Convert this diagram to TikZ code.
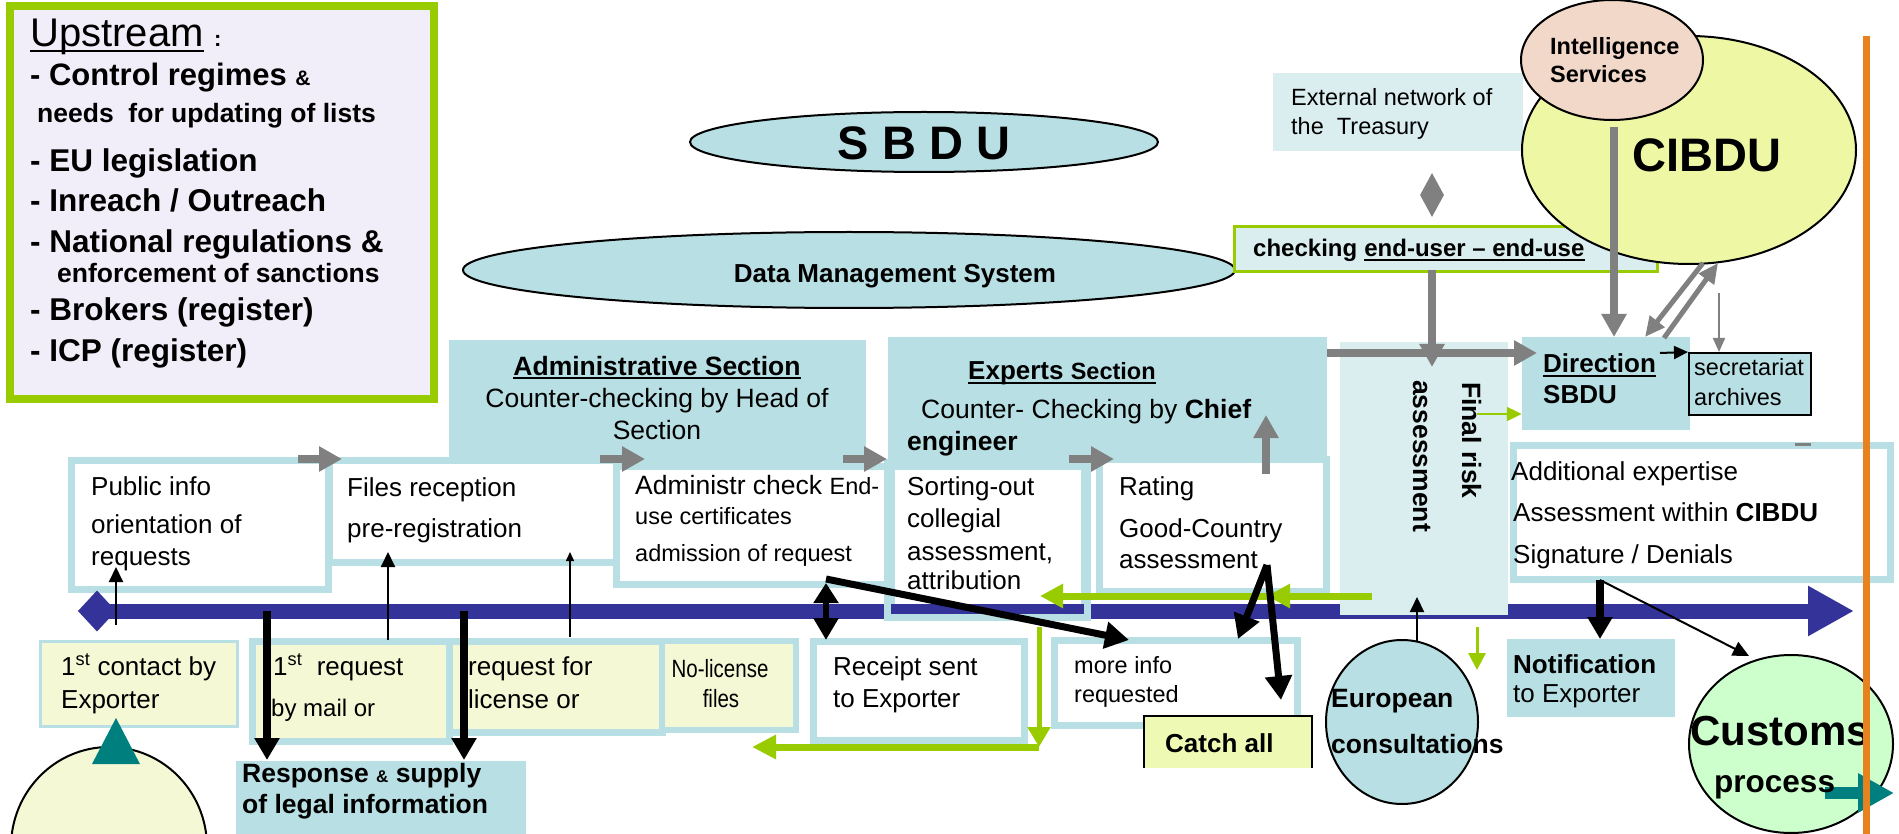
\documentclass[tikz,border=0pt]{standalone}
\usepackage{fontspec}
\setmainfont{Liberation Sans}
\newfontfamily\narrowfont[FakeStretch=0.82]{Liberation Sans}
\usetikzlibrary{arrows.meta,shapes.geometric,fit}
\definecolor{tealL}{HTML}{B8DFE3}
\definecolor{tealXL}{HTML}{DAEEF0}
\definecolor{yelL}{HTML}{F5F8D5}
\definecolor{grn}{HTML}{99CC00}
\definecolor{navy}{HTML}{333399}
\definecolor{gry}{HTML}{808080}
\definecolor{orng}{HTML}{E8821E}
\definecolor{intel}{HTML}{F2D8C9}
\definecolor{cib}{HTML}{EDF7A4}
\definecolor{cust}{HTML}{CCFFCC}
\definecolor{catchc}{HTML}{EEFAB4}
\definecolor{lav}{HTML}{F1EEF9}
\definecolor{tealD}{HTML}{007F7F}
\newcommand{\fpx}[1]{\fontsize{#1}{#1}\selectfont}
\tikzset{
  t/.style={inner sep=0pt, anchor=base west},
  tc/.style={inner sep=0pt, anchor=base},
  wbox/.style={inner sep=0pt, draw=tealL, line width=7pt, fill=white},
  ybox/.style={inner sep=0pt, draw=tealL, line width=7pt, fill=yelL},
  tfill/.style={inner sep=0pt, fill=tealL},
  ell/.style={ellipse, inner sep=0pt, draw=black, line width=2pt},
  garrow/.style={draw=gry, line width=8pt, -{Triangle[length=23pt,width=24pt]}},
  bthick/.style={draw=black, line width=8pt, -{Triangle[length=22pt,width=24pt]}},
  bmed/.style={draw=black, line width=7pt, -{Triangle[length=24pt,width=26pt]}},
  bthin/.style={draw=black, line width=2pt, -{Triangle[length=15pt,width=14pt]}},
  garr/.style={draw=grn, line width=7pt, -{Triangle[length=23pt,width=23pt]}},
  ul/.style={line width=2pt},
}
\begin{document}
\begin{tikzpicture}[x=1pt,y=-1pt]
\useasboundingbox (0,0) rectangle (1899,834);

% ---------- Upstream box
\node[fit={(10,6) (434,399)}, inner sep=0pt, draw=grn, line width=8pt, fill=lav] (upbox) {};
\node[t] (upT) at (30,47) {\fpx{40}Upstream};
\draw[ul] ([yshift=-4pt]upT.base west) -- ([yshift=-4pt]upT.base east);
\node[t] (upC) at (214,47) {\bfseries\fpx{22}:};
\node[t] (u1) at (30,86) {\bfseries\fpx{31}- Control regimes {\fpx{21}\&}};
\node[t] (u2) at (37,123) {\bfseries\fpx{26.5}needs\ \ for updating of lists};
\node[t] (u3) at (30,172) {\bfseries\fpx{31.5}- EU legislation};
\node[t] (u4) at (30,212) {\bfseries\fpx{31.5}- Inreach / Outreach};
\node[t] (u5) at (30,253) {\bfseries\fpx{31.5}- National regulations \&};
\node[t] (u6) at (57,283) {\bfseries\fpx{26.5}enforcement of sanctions};
\node[t] (u7) at (30,321) {\bfseries\fpx{31.5}- Brokers (register)};
\node[t] (u8) at (30,362) {\bfseries\fpx{31.5}- ICP (register)};

% ---------- ellipses top
\node[ell, fill=tealL, minimum width=468pt, minimum height=60pt] (sbdu) at (924,142) {};
\node[tc] (sbduT) at (924,160) {\bfseries\fpx{47}S B D U};
\node[ell, fill=tealL, minimum width=772pt, minimum height=76pt] (dms) at (849,270) {};
\node[tc] (dmsT) at (895,283) {\bfseries\fpx{26}Data Management System};

% ---------- external network / checking
\node[fit={(1273,73) (1523,151)}, inner sep=0pt, fill=tealXL] (ext) {};
\node[t] (ext1) at (1291,106) {\fpx{23.5}External network of};
\node[t] (ext2) at (1291,135) {\fpx{23.5}the\ \ Treasury};
\node[diamond, fill=gry, inner sep=0pt, minimum width=24pt, minimum height=44pt] (dia) at (1432,195) {};
\node[fit={(1234,227) (1657,272)}, inner sep=0pt, draw=grn, line width=3pt, fill=tealXL] (chk) {};
\node[t] (chk1) at (1253,257) {\bfseries\fpx{24}checking};
\node[t] (chk2) at ([xshift=6.7pt]chk1.base east) {\bfseries\fpx{24}end-user -- end-use};
\draw[ul] ([yshift=-3pt]chk2.base west) -- ([yshift=-3pt]chk2.base east);

% ---------- CIBDU / intelligence
\node[ell, fill=cib, minimum width=334pt, minimum height=228pt] (cibdu) at (1689,150) {};
\node[tc] (cibT) at (1707,172) {\bfseries\fpx{47}CIBDU};
\node[ell, fill=intel, minimum width=182pt, minimum height=120pt] (intel) at (1612,60) {};
\node[t] (int1) at (1550,55) {\bfseries\fpx{23.5}Intelligence};
\node[t] (int2) at (1550,83) {\bfseries\fpx{23.5}Services};

% ---------- section headers
\node[fit={(449,340) (866,463)}, tfill] (admH) {};
\node[tc] (admH1) at (657,375) {\bfseries\fpx{26.5}Administrative Section};
\draw[ul] ([yshift=-3pt]admH1.base west) -- ([yshift=-3pt]admH1.base east);
\node[tc] (admH2) at (657,407) {\fpx{26.5}Counter-checking by Head of};
\node[tc] (admH3) at (657,439) {\fpx{26.5}Section};

\node[fit={(888,337) (1327,463)}, tfill] (expH) {};
\node[t] (expH1) at (968,380) {\bfseries\fpx{26}Experts {\fpx{23.5}Section}};
\draw[ul] ([yshift=-3pt]expH1.base west) -- ([yshift=-3pt]expH1.base east);
\node[t] (expH2) at (921,418) {\fpx{26.5}Counter- Checking by \textbf{Chief}};
\node[t] (expH3) at (907,450) {\bfseries\fpx{26.5}engineer};

% ---------- direction / secretariat
\node[fit={(1522,337) (1690,430)}, tfill] (dir) {};
\node[t] (dir1) at (1543,373) {\bfseries\fpx{26}Direction};
\draw[ul] ([yshift=-3pt]dir1.base west) -- ([yshift=-3pt]dir1.base east);
\node[t] (dir2) at (1543,403) {\bfseries\fpx{26}SBDU};
\node[fit={(1689,353) (1811,415)}, inner sep=0pt, draw=black, line width=2pt, fill=tealL] (sec) {};
\node[t] (sec1) at (1694,375) {\fpx{23.5}secretariat};
\node[t] (sec2) at (1694,405) {\fpx{23.5}archives};

% ---------- process boxes (upper row)
\node[fit={(71,460) (328,589)}, wbox] (pub) {};
\node[fit={(329,460) (624,562)}, wbox] (files) {};
\node[fit={(616,466) (888,584)}, wbox] (achk) {};
\node[fit={(891,466) (1084,614)}, wbox] (sort) {};
\node[fit={(1099,459) (1326,591)}, wbox] (rate) {};

% ---------- time line
\coordinate (barL) at (78,611);
\coordinate (barR) at (1854,611);
\draw[navy, line width=15pt, {Diamond[length=38pt,width=41pt]}-{Triangle[length=46pt,width=47pt]}] (barL) -- (barR);
\draw[tealL, line width=7pt] (sort.north west) rectangle (sort.south east);

% ---------- final risk / additional
\node[fit={(1340,342) (1508,615)}, inner sep=0pt, fill=tealXL] (fin) {};
\node[rotate=-90, t] (fin1) at (1462,382) {\bfseries\fpx{26.5}Final risk};
\node[rotate=-90, t] (fin2) at (1413,380) {\bfseries\fpx{26.5}assessment};
\node[fit={(1513,445) (1890,579)}, wbox] (add) {};
\coordinate (dashA) at (1795,444);
\coordinate (dashB) at (1811,444);
\draw[gry, line width=3pt] (dashA) -- (dashB);

% ---------- lower row
\node[fit={(40,641) (237,726)}, inner sep=0pt, draw=tealL, line width=3pt, fill=yelL] (contact) {};
\node[fit={(252,641) (449,741)}, ybox] (reqA) {};
\node[fit={(449,641) (662,732)}, ybox] (reqB) {};
\node[fit={(662,641) (796,730)}, ybox, line width=6pt] (nolic) {};
\node[fit={(813,641) (1024,740)}, wbox] (rcpt) {};
\node[fit={(1054,640) (1297,725)}, wbox] (more) {};
\node[fit={(1144,716) (1312,768)}, inner sep=0pt, fill=catchc] (catch) {};
\draw[line width=2pt] (catch.south west) -- (catch.north west) -- (catch.north east) -- (catch.south east);
\node[fit={(236,761) (526,840)}, tfill] (resp) {};
\node[fit={(1507,639) (1675,717)}, tfill] (notif) {};
\node[ell, fill=tealL, minimum width=152pt, minimum height=164pt] (euro) at (1402,722) {};
\node[ell, fill=cust, minimum width=204pt, minimum height=178pt] (cust) at (1791,744) {};
\node[ell, fill=yelL, minimum width=196pt, minimum height=200pt] (expo) at (109,847) {};
\fill[tealD] (116,718) -- (140,764) -- (92,764) -- cycle;

% ---------- grey arrows
\draw[garrow] (298,459) -- (342,459);
\draw[garrow] (600,459) -- (645,459);
\draw[garrow] (843,459) -- (887,459);
\draw[garrow] (1069,459) -- (1114,459);
\coordinate (rateUp) at (1266,474);
\coordinate (rateUpT) at (1266,415);
\draw[garrow] (rateUp) -- (rateUpT);
\coordinate (expOut) at (1327,353);
\coordinate (dirIn) at (1537,353);
\draw[garrow] (expOut) -- (dirIn);
\coordinate (chkOut) at (1432,270);
\coordinate (finIn) at (1432,367);
\draw[garrow] (chkOut) -- (finIn);
\coordinate (intOut) at (1614,127);
\coordinate (dirTop) at (1614,337);
\draw[garrow] (intOut) -- (dirTop);
\coordinate (dA1) at (1664,338);
\coordinate (dA2) at (1718,263);
\coordinate (dB1) at (1703,263);
\coordinate (dB2) at (1645,337);
\draw[draw=gry, line width=5pt, -{Triangle[length=20pt,width=18pt]}] (dA1) -- (dA2);
\draw[draw=gry, line width=5pt, -{Triangle[length=20pt,width=18pt]}] (dB1) -- (dB2);
\coordinate (cibOut) at (1719,293);
\draw[draw=gry, line width=2pt, -{Triangle[length=14pt,width=12pt]}] (cibOut) -- (1719,352);

% ---------- small black arrow direction -> secretariat
\draw[draw=black, line width=2pt, -{Triangle[length=14pt,width=13pt]}] (1660,353) -- (sec.north west);

% ---------- green arrows
\coordinate (g1) at (1372,596);
\coordinate (g2) at (1267,596);
\coordinate (g3) at (1040,596);
\draw[garr] (g1) -- (g2);
\draw[garr] (g2) -- (g3);
\coordinate (g4) at (1039,627);
\coordinate (g5) at (1039,747);
\coordinate (g6) at (752,747);
\draw[draw=grn, line width=5pt, -{Triangle[length=20pt,width=22pt]}] (g4) -- (g5);
\draw[draw=grn, line width=7pt, -{Triangle[length=24pt,width=23pt]}] (g5) -- (g6);
\coordinate (g7) at (1477,627);
\draw[draw=grn, line width=3pt, -{Triangle[length=17pt,width=17pt]}] (g7) -- (1477,670);
\coordinate (g8) at (1477,414);
\draw[draw=grn, line width=2pt, -{Triangle[length=15pt,width=14pt]}] (g8) -- (dir.west |- g8);

% ---------- black arrows
\coordinate (c1) at (116,625);
\draw[bthin] (c1) -- (116,567);
\coordinate (c2) at (388,640);
\draw[bthin] (c2) -- (388,552);
\coordinate (c3) at (570,637);
\draw[draw=black, line width=1.5pt, -{Triangle[length=9pt,width=8pt]}] (c3) -- (570,552);
\coordinate (c4) at (1417,641);
\draw[bthin] (c4) -- (1417,597);
\coordinate (d1) at (267,611);
\draw[bthick] (d1) -- (267,760);
\coordinate (d2) at (464,611);
\draw[bthick] (d2) -- (464,760);
\coordinate (n1) at (1600,580);
\draw[bthick] (n1) -- (1600,639);
\draw[draw=black, line width=2pt, -{Triangle[length=16pt,width=15pt]}] (n1) -- (1749,656);
\coordinate (a1) at (826,579);
\draw[draw=black, line width=6pt, {Triangle[length=20pt,width=24pt]}-{Triangle[length=22pt,width=24pt]}] (826,583) -- (826,640);
\draw[bmed] (a1) -- (1129,640);
\coordinate (r1) at (1267,565);
\draw[bmed] (r1) -- (1238,639);
\draw[bmed] (r1) -- (1281,700);

% ---------- teal arrow to customs exit
\draw[draw=tealD, line width=12pt, -{Triangle[length=36pt,width=37pt]}] (1825,793) -- (1894,793);

% ---------- texts in boxes
\node[t] (pub1) at (91,495) {\fpx{26}Public info};
\node[t] (pub2) at (91,533) {\fpx{26}orientation of};
\node[t] (pub3) at (91,565) {\fpx{26}requests};
\node[t] (fil1) at (347,496) {\fpx{26}Files reception};
\node[t] (fil2) at (347,537) {\fpx{26}pre-registration};
\node[t] (ach1) at (635,494) {\fpx{26.5}Administr check {\fpx{23.5}End-}};
\node[t] (ach2) at (635,524) {\fpx{23.5}use certificates};
\node[t] (ach3) at (635,561) {\fpx{23.5}admission of request};
\node[t] (sor1) at (907,495) {\fpx{26}Sorting-out};
\node[t] (sor2) at (907,527) {\fpx{26}collegial};
\node[t] (sor3) at (907,560) {\fpx{26}assessment,};
\node[t] (sor4) at (907,589) {\fpx{26}attribution};
\node[t] (rat1) at (1119,495) {\fpx{26}Rating};
\node[t] (rat2) at (1119,537) {\fpx{26}Good-Country};
\node[t] (rat3) at (1119,568) {\fpx{26}assessment};
\node[t] (add1) at (1511,480) {\fpx{26}Additional expertise};
\node[t] (add2) at (1513,521) {\fpx{26}Assessment within \textbf{CIBDU}};
\node[t] (add3) at (1513,563) {\fpx{26}Signature / Denials};

\node[t] (con1) at (61,675) {\fpx{26}1\textsuperscript{st} contact by};
\node[t] (con2) at (61,708) {\fpx{26}Exporter};
\node[t] (rqa1) at (273,675) {\fpx{26}1\textsuperscript{st}\ \ request};
\node[t] (rqa2) at (271,716) {\fpx{24}by mail or};
\node[t] (rqb1) at (468,675) {\fpx{26}request for};
\node[t] (rqb2) at (468,708) {\fpx{26}license or};
\node[tc] (nol1) at (720,677) {\narrowfont\fpx{25}No-license};
\node[tc] (nol2) at (721,707) {\narrowfont\fpx{25}files};
\node[t] (rcp1) at (833,675) {\fpx{26}Receipt sent};
\node[t] (rcp2) at (833,707) {\fpx{26}to Exporter};
\node[t] (mor1) at (1074,673) {\fpx{23.5}more info};
\node[t] (mor2) at (1074,702) {\fpx{23.5}requested};
\node[t] (cat1) at (1165,752) {\bfseries\fpx{26}Catch all};
\node[t] (res1) at (242,782) {\bfseries\fpx{26.5}Response {\fpx{17}\&} supply};
\node[t] (res2) at (242,813) {\bfseries\fpx{26.5}of legal information};
\node[t] (not1) at (1513,673) {\bfseries\fpx{26}Notification};
\node[t] (not2) at (1513,702) {\fpx{26}to Exporter};
\node[t] (eur1) at (1331,707) {\bfseries\fpx{26.5}European};
\node[t] (eur2) at (1331,753) {\bfseries\fpx{26.5}consultations};
\node[t] (cus1) at (1690,745) {\bfseries\fpx{42}Customs};
\node[t] (cus2) at (1714,792) {\bfseries\fpx{31.5}process};

% ---------- orange border line
\coordinate (orT) at (1866,36);
\coordinate (orB) at (1866,834);
\draw[orng, line width=7pt] (orT) -- (orB);
\end{tikzpicture}
\end{document}
